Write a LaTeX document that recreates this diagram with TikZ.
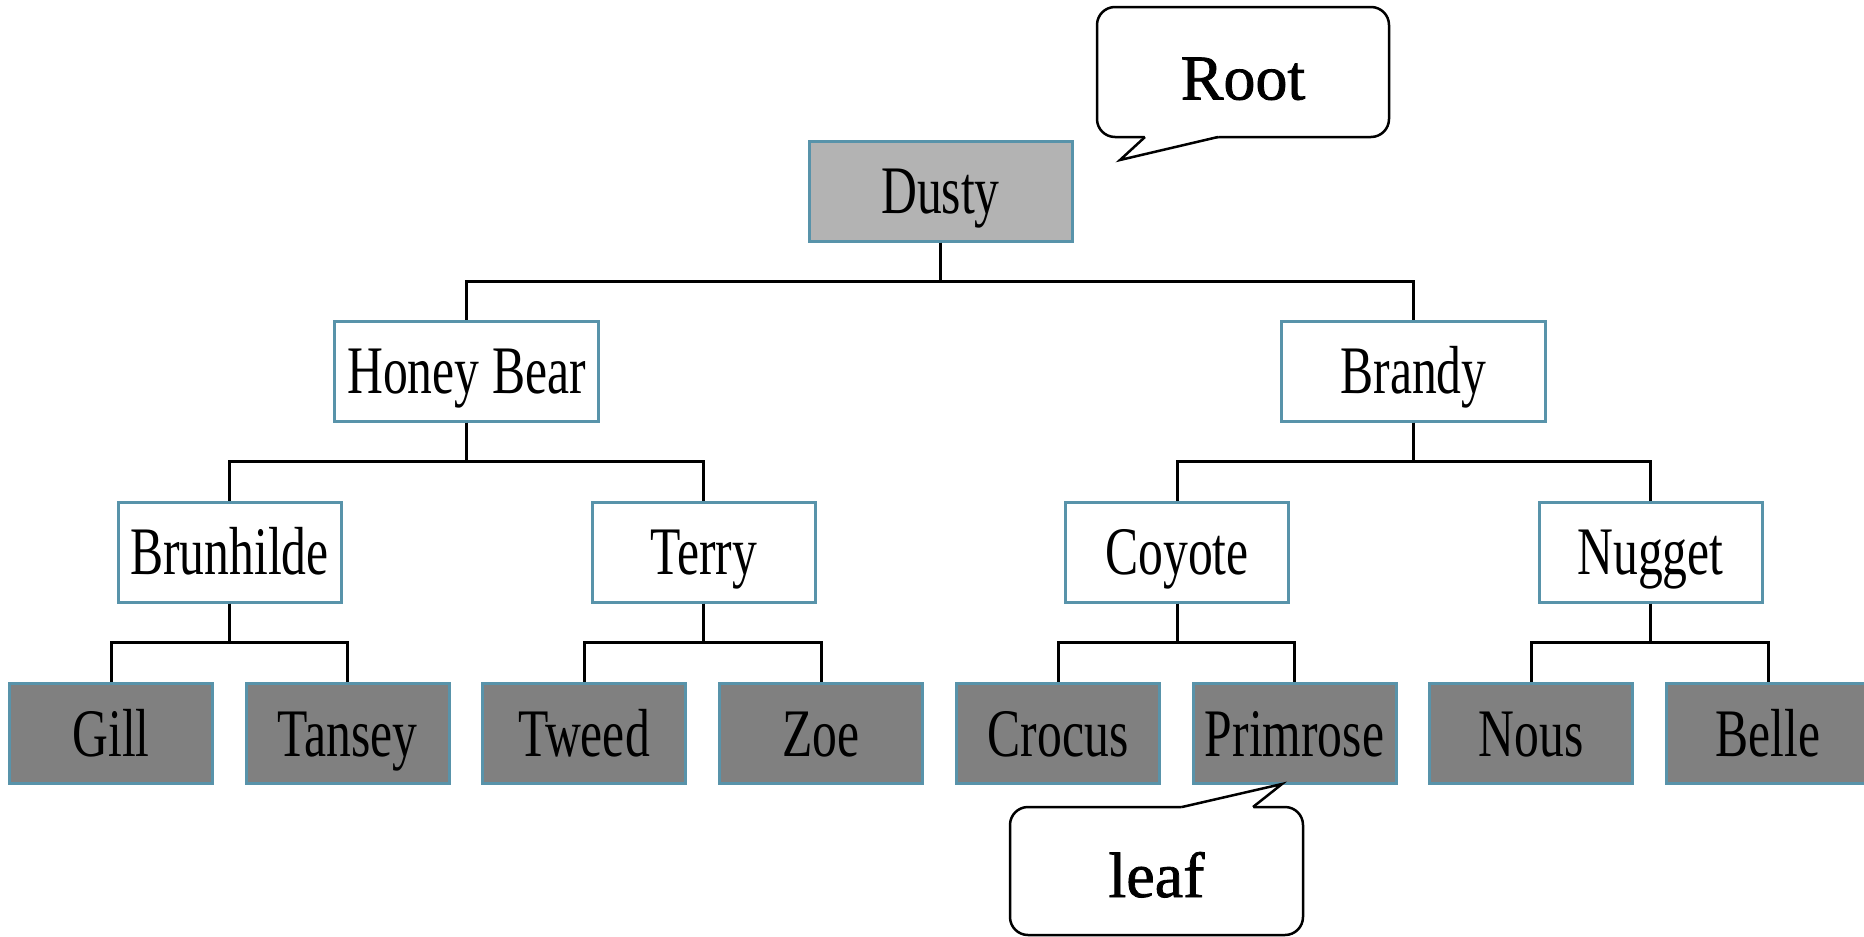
\documentclass[tikz,border=0pt]{standalone}
\usepackage{fontspec}
\setmainfont{Liberation Serif}
\newfontfamily\condfont[FakeStretch=0.73]{Liberation Serif}
\newfontfamily\calloutfont[FakeBold=1.2]{Liberation Serif}
\definecolor{nodeborder}{RGB}{88,147,170}
\definecolor{rootfill}{RGB}{179,179,179}
\definecolor{leaffill}{RGB}{128,128,128}
\tikzset{
  treenode/.style={draw=nodeborder, line width=3pt, inner sep=0pt,
    minimum height=100pt, text height=45pt, text depth=0pt,
    font=\condfont\fontsize{68}{80}\selectfont},
  rootnode/.style={treenode, fill=rootfill, minimum width=263pt},
  levelone/.style={treenode, fill=white, minimum width=264pt},
  leveltwo/.style={treenode, fill=white, minimum width=223pt},
  leafnode/.style={treenode, fill=leaffill, minimum width=203pt},
  conn/.style={draw=black, line width=3pt},
  calloutbox/.style={draw=black, fill=white, line width=2.5pt, rounded corners=18pt,
    inner sep=0pt, text depth=0pt, font=\calloutfont\fontsize{64}{76}\selectfont},
  pointer/.style={draw=black, line width=2.5pt, line join=miter},
}
\begin{document}
\begin{tikzpicture}[x=1pt, y=-1pt]
\useasboundingbox (0,0) rectangle (1864,937);
\clip (0,0) rectangle (1864,937);

% tree nodes
\node[rootnode] (root) at (940.5,191) {Dusty};
\node[levelone] (hb) at (466.5,371) {Honey Bear};
\node[levelone] (br) at (1413.5,371) {Brandy};
\node[leveltwo] (bru) at (229.5,552) {Brunhilde};
\node[leveltwo] (ter) at (703.5,552) {Terry};
\node[leveltwo] (coy) at (1177,552) {Coyote};
\node[leveltwo] (nug) at (1650.5,552) {Nugget};
\node[leafnode] (gill) at (111,733.5) {Gill};
\node[leafnode] (tan) at (347.5,733.5) {Tansey};
\node[leafnode] (twe) at (584,733.5) {Tweed};
\node[leafnode] (zoe) at (821,733.5) {Zoe};
\node[leafnode] (cro) at (1058,733.5) {Crocus};
\node[leafnode] (pri) at (1294.5,733.5) {Primrose};
\node[leafnode] (nou) at (1531,733.5) {Nous};
\node[leafnode] (bel) at (1768,733.5) {Belle};

% connectors
\foreach \p/\c in {root/hb, root/br, hb/bru, hb/ter, br/coy, br/nug,
                   bru/gill, bru/tan, ter/twe, ter/zoe, coy/cro, coy/pri, nug/nou, nug/bel}
  \draw[conn] (\p.south) -- ++(0,38.5) -| (\c.north);

% Root callout
\node[calloutbox, minimum width=292pt, minimum height=130pt, text height=55pt] (rootc) at (1243,72) {Root};
\fill[white] (1144,133.5) -- (1219,133.5) -- (1218,137) -- (1120,160) -- (1145,137) -- cycle;
\draw[pointer] (1145,137) -- (1120,160) -- (1218,137);

% leaf callout
\node[calloutbox, minimum width=293pt, minimum height=128pt, text height=52pt] (leafc) at (1156.5,871) {leaf};
\fill[white] (1181,810.5) -- (1254,810.5) -- (1253,807) -- (1282,784) -- (1182,807) -- cycle;
\draw[pointer] (1182,807) -- (1282,784) -- (1253,807);
\end{tikzpicture}
\end{document}
